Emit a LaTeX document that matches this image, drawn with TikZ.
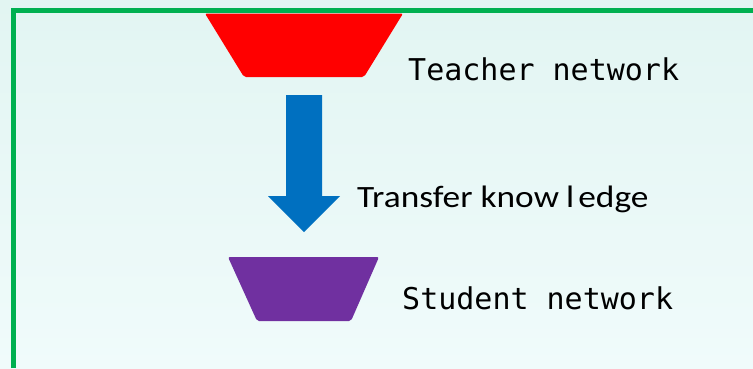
\documentclass[tikz,border=0pt]{standalone}
\usepackage{fontspec}
\newfontfamily\monofont{DejaVu Sans Mono}
\newfontfamily\carlfont{Carlito}
\definecolor{bgtop}{RGB}{226,245,242}
\definecolor{bgbot}{RGB}{240,251,251}
\definecolor{bordergreen}{RGB}{0,176,80}
\definecolor{teachred}{RGB}{255,0,0}
\definecolor{arrowblue}{RGB}{0,112,192}
\definecolor{studpurple}{RGB}{112,48,160}
\tikzset{
  lbl/.style={anchor=base west, inner sep=0pt, font=\monofont\fontsize{30}{36}\selectfont},
  lblprop/.style={anchor=base west, inner sep=0pt, font=\carlfont\fontsize{31}{37}\selectfont},
  trap/.style={rounded corners=2pt},
}
\begin{document}
\begin{tikzpicture}[x=1pt,y=-1pt]
\useasboundingbox (0,0) rectangle (753,368);
\shade[top color=bgtop, bottom color=bgbot] (0,0) rectangle (753,368);
% green frame
\draw[bordergreen, line width=5pt] (13,368) -- (13,10) -- (753,10);
% teacher trapezoid
\fill[teachred, trap] (205,13.5) -- (403,13.5) -- (364,77) -- (244,77) -- cycle;
\coordinate (teacher) at (304,77);
% arrow
\fill[arrowblue] (286,95) -- (322,95) -- (322,196) -- (340,196) -- (304,232) -- (268,196) -- (286,196) -- cycle;
% student trapezoid
\fill[studpurple, trap] (228,257) -- (379,257) -- (351,321) -- (257,321) -- cycle;
\coordinate (student) at (304,257);
% labels
\node[lbl] (tlabel) at (408,80) {Teacher network};
\node[lblprop] (klabel) at (357,207) {\scalebox{1.14}[1]{Transfer know\hspace{0.2em}l\hspace{0.12em}edge}};
\node[lbl] (slabel) at (402,309) {Student network};
\end{tikzpicture}
\end{document}
